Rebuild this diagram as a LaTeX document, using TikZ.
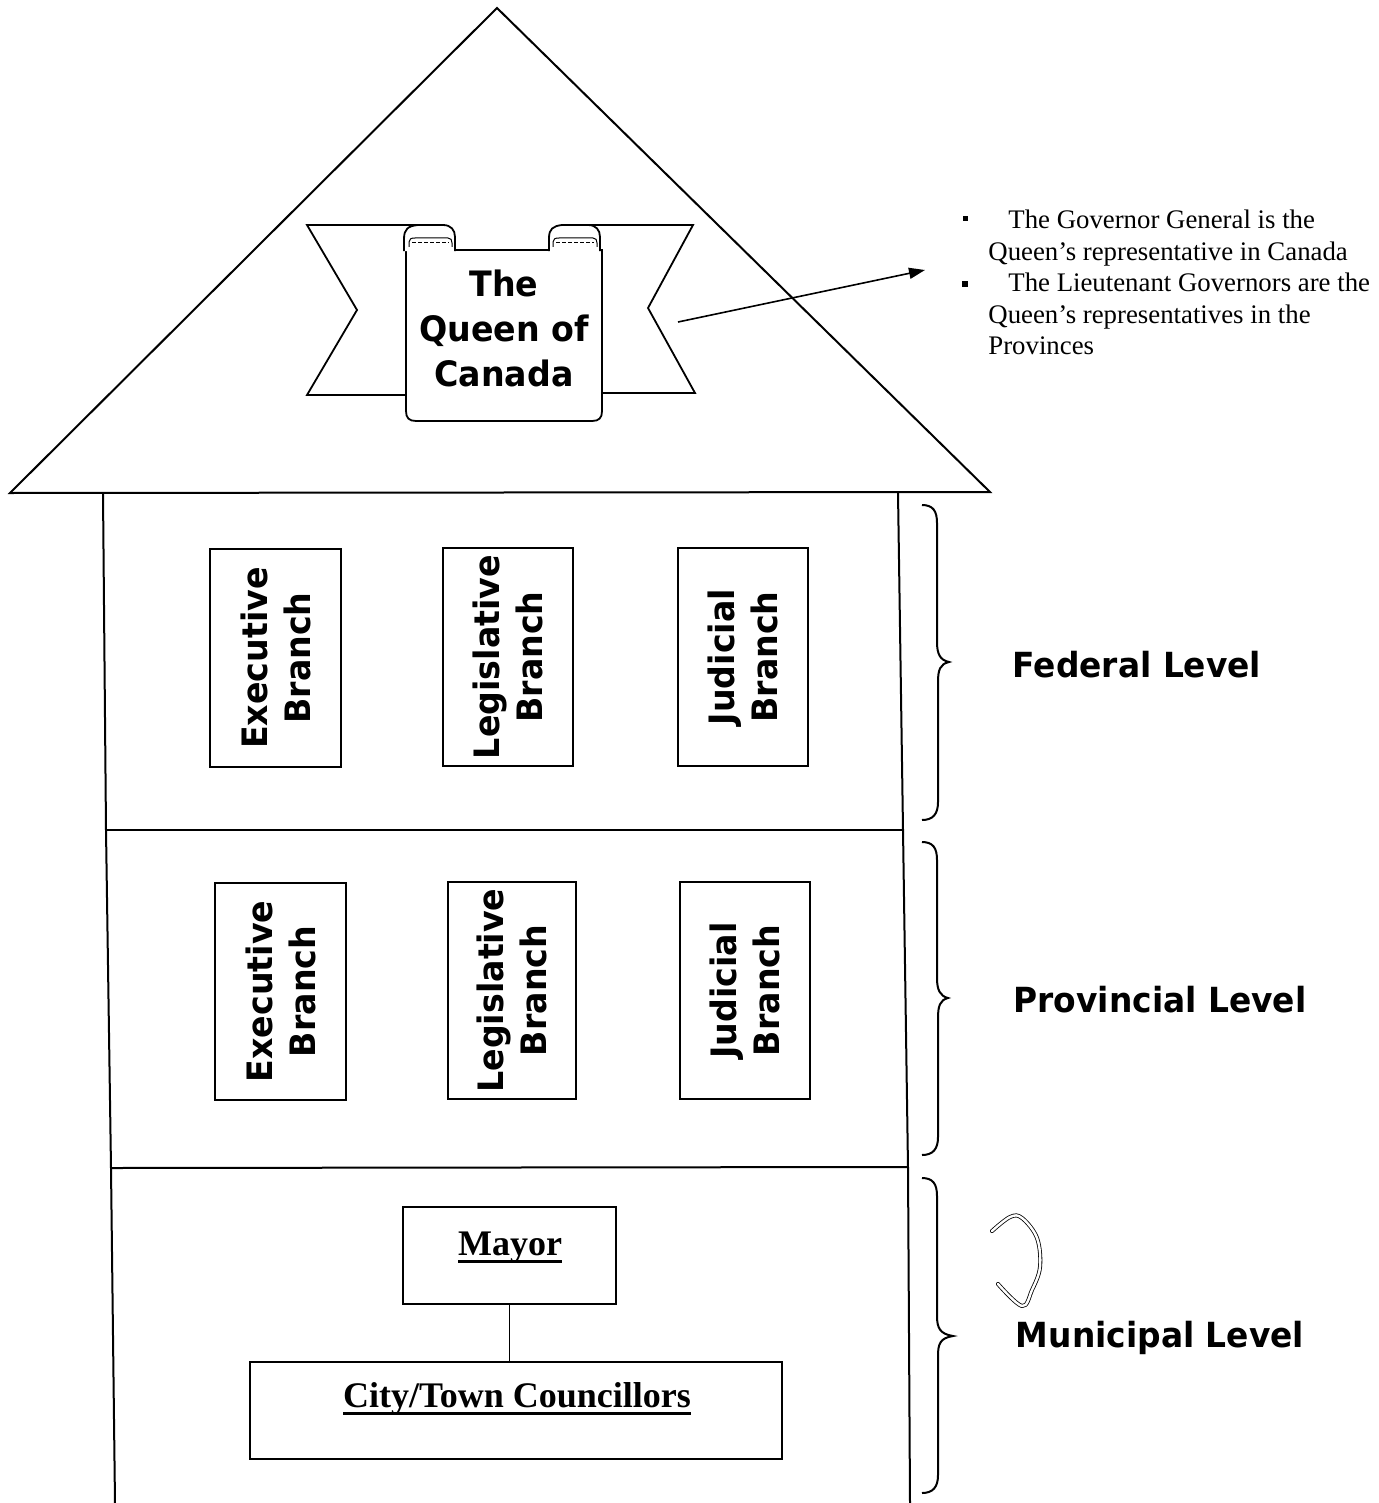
\documentclass[tikz,border=0pt]{standalone}
\usepackage{fontspec}
\setmainfont{Liberation Serif}
\newfontfamily\verd{DejaVu Sans}[FakeStretch=0.95]
\usetikzlibrary{arrows.meta}
\newcommand\LevelBrace[4]{%
  \draw[bracestyle] (922,#1) .. controls (933,#1) and (937,{#1+6}) .. (937,{#1+18})
    -- (937,{#2-20}) .. controls (937,{#2-8}) and (940,{#2-2}) .. (#4,#2)
    .. controls (940,{#2+2}) and (938,{#2+8}) .. (938,{#2+20})
    -- (938,{#3-18}) .. controls (938,{#3-6}) and (933,#3) .. (922,#3);}
\newcommand\ThickUL[1]{\leavevmode\setbox0\hbox{#1}\rlap{\rule[-4pt]{\wd0}{1.5pt}}\box0}
\tikzset{
  wall/.style={line width=1pt, line join=miter},
  bracestyle/.style={line width=1pt},
  branchbox/.style={draw, line width=1pt, rotate=90, inner sep=0pt, align=center,
    font=\verd\bfseries\fontsize{17.5}{21.5}\selectfont},
  levellabel/.style={font=\verd\bfseries\fontsize{17.3}{22}\selectfont, inner sep=0pt},
  munbox/.style={draw, line width=1pt, inner sep=0pt},
  muntext/.style={font=\bfseries\fontsize{18}{22}\selectfont, inner sep=0pt, anchor=base},
  bullettext/.style={font=\fontsize{13.4}{15.75}\selectfont, align=left, anchor=north west, inner sep=0pt},
  bulletsq/.style={fill=black, minimum size=3pt, inner sep=0pt},
  scrollline/.style={line width=0.9pt, fill=white},
  handmark/.style={line width=0.4pt, double=white, double distance=1.2pt, line cap=round, line join=round}
}
\begin{document}
\begin{tikzpicture}[x=0.5pt,y=-0.5pt]
\useasboundingbox (0,0) rectangle (1378,1503);
% roof
\draw[wall] (10,493) -- (497,8) -- (990,492) -- cycle;
% walls
\draw[wall] (103,493) -- (106,830) -- (111,1168) -- (115,1503);
\draw[wall] (898,493) -- (903,830) -- (908,1168) -- (910,1503);
% floors
\draw[wall] (106,830) -- (903,830);
\draw[wall] (111,1168) -- (908,1167);
% ribbon / scroll
\draw[scrollline] (307,225) -- (430,225) -- (430,395) -- (307,395) -- (357,310) -- cycle;
\draw[scrollline] (693,225) -- (575,225) -- (575,393) -- (695,393) -- (648,308) -- cycle;
\draw[scrollline] (406,250) -- (406,411) .. controls (406,418) and (409,421) .. (416,421)
  -- (592,421) .. controls (599,421) and (602,418) .. (602,411) -- (602,250) -- cycle;
\draw[scrollline] (404,251) -- (404,239) .. controls (404,229) and (408,226) .. (418,225)
  -- (443,225) .. controls (451,225) and (455,230) .. (455,237) -- (455,251);
\draw[line width=0.5pt] (409,247) -- (409,242) .. controls (409,239) and (411,238) .. (415,238)
  -- (448,238) .. controls (451,238) and (452,240) .. (452,243) -- (452,247);
\draw[line width=0.5pt, dash pattern=on 2pt off 1pt] (412,243) -- (449,243);
\draw[scrollline] (549,251) -- (549,238) .. controls (549,229) and (553,226) .. (562,225)
  -- (588,225) .. controls (596,225) and (600,230) .. (600,237) -- (600,251);
\draw[line width=0.5pt] (553,247) -- (553,242) .. controls (553,239) and (555,238) .. (559,238)
  -- (593,238) .. controls (596,238) and (597,240) .. (597,243) -- (597,247);
\draw[line width=0.5pt, dash pattern=on 2pt off 1pt] (556,243) -- (594,243);
\node[font=\verd\bfseries\fontsize{17.5}{22.5}\selectfont, align=center, inner sep=0pt] (queen) at (504,328) {The\\Queen of\\Canada};
% arrow to notes
\coordinate (arrowtail) at (678,322);
\coordinate (arrowtip) at (925,270);
\draw[line width=0.8pt, -{Triangle[length=8pt,width=5.5pt]}] (arrowtail) -- (arrowtip);
\node[bulletsq, minimum size=2.5pt] (bulA) at (965,219) {};
\node[bulletsq] (bulB) at (965,284) {};
\node[bullettext] (noteA) at (988,210) {\hspace{10pt}The Governor General is the\\Queen’s representative in Canada};
\node[bullettext] (noteB) at (988,273) {\hspace{10pt}The Lieutenant Governors are the\\Queen’s representatives in the\\Provinces};
% federal
\node[branchbox, minimum width=109pt, minimum height=65.5pt] (fedexec) at (275.5,658) {Executive\\Branch};
\node[branchbox, minimum width=109pt, minimum height=65pt] (fedleg) at (508,657) {Legislative\\Branch};
\node[branchbox, minimum width=109pt, minimum height=65pt] (fedjud) at (743,657) {Judicial\\Branch};
% provincial
\node[branchbox, minimum width=108.5pt, minimum height=65.5pt] (provexec) at (280.5,991.5) {Executive\\Branch};
\node[branchbox, minimum width=108.5pt, minimum height=64pt] (provleg) at (512,990.5) {Legislative\\Branch};
\node[branchbox, minimum width=108.5pt, minimum height=65pt] (provjud) at (745,990.5) {Judicial\\Branch};
% municipal
\node[munbox, minimum width=106.5pt, minimum height=48.5pt] (mayorbox) at (509.5,1255.5) {};
\node[muntext] (mayor) at (510,1255) {\ThickUL{Mayor}};
\node[munbox, minimum width=266pt, minimum height=48.5pt] (councilbox) at (516,1410.5) {};
\node[muntext] (council) at (517,1407) {\ThickUL{City/Town Councillors}};
\draw[line width=0.8pt] (mayorbox.south) -- (mayorbox.south |- councilbox.north);
% braces
\LevelBrace{505}{662}{820}{949}
\LevelBrace{842}{998}{1155}{948}
\LevelBrace{1178}{1336}{1493}{953}
% level labels
\node[levellabel] (fedlabel) at (1137,665) {Federal Level};
\node[levellabel] (provlabel) at (1160,1000) {Provincial Level};
\node[levellabel] (munlabel) at (1160,1338) {Municipal Level};
% hand-drawn mark
\draw[handmark] plot[smooth, tension=0.6] coordinates {(992,1231) (1010,1217) (1022,1218) (1037,1238) (1040,1267) (1032,1290) (1022,1306) (998,1284)};
\end{tikzpicture}
\end{document}
